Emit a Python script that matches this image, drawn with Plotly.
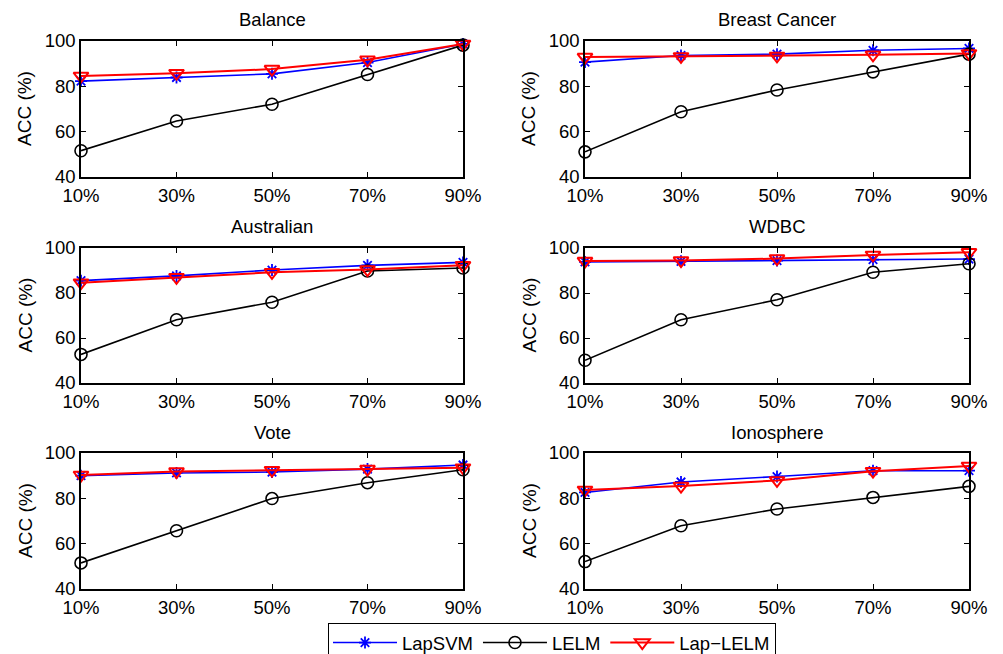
import plotly.graph_objects as go

# ---------------- data ----------------
x_vals = [10, 30, 50, 70, 90]
x_labels = ["10%", "30%", "50%", "70%", "90%"]
y_ticks = [40, 60, 80, 100]

titles = ["Balance", "Breast Cancer", "Australian", "WDBC", "Vote", "Ionosphere"]

lapsvm_balance = [82.3, 83.9, 85.5, 90.5, 98.7]
lelm_balance = [51.6, 64.7, 72.1, 85.2, 98.2]
laplelm_balance = [84.6, 85.8, 87.6, 91.7, 98.7]

lapsvm_breast = [90.7, 93.6, 94.2, 95.9, 96.7]
lelm_breast = [51.1, 68.8, 78.4, 86.4, 94.2]
laplelm_breast = [92.9, 93.2, 93.4, 93.9, 94.5]

lapsvm_australian = [85.5, 87.6, 90.2, 92.3, 93.6]
lelm_australian = [52.7, 68.1, 75.9, 89.8, 91.1]
laplelm_australian = [84.6, 87.0, 89.2, 90.4, 92.3]

lapsvm_wdbc = [93.8, 94.1, 94.4, 94.8, 95.1]
lelm_wdbc = [50.1, 68.1, 77.0, 89.2, 93.0]
laplelm_wdbc = [94.2, 94.4, 95.3, 96.9, 98.1]

lapsvm_vote = [90.0, 91.2, 91.6, 92.9, 94.7]
lelm_vote = [51.5, 65.7, 79.9, 86.9, 92.6]
laplelm_vote = [90.3, 91.8, 92.4, 92.9, 93.5]

lapsvm_iono = [82.6, 87.2, 89.6, 92.2, 92.2]
lelm_iono = [52.1, 67.9, 75.3, 80.4, 85.3]
laplelm_iono = [83.7, 85.4, 87.9, 92.0, 94.3]

series_sets = [
    (lapsvm_balance, lelm_balance, laplelm_balance),
    (lapsvm_breast, lelm_breast, laplelm_breast),
    (lapsvm_australian, lelm_australian, laplelm_australian),
    (lapsvm_wdbc, lelm_wdbc, laplelm_wdbc),
    (lapsvm_vote, lelm_vote, laplelm_vote),
    (lapsvm_iono, lelm_iono, laplelm_iono),
]

# ---------------- layout geometry ----------------
W, H = 1003, 654
FONT = "Liberation Sans, Arial, Helvetica, sans-serif"
col_px = [(81, 463), (585, 969)]
row_px = [(41, 177), (248, 383), (453, 589)]

fig = go.Figure()
layout_axes = {}
annotations = []

for i, (svm, lelm, lap) in enumerate(series_sets):
    r, c = divmod(i, 2)
    idx = "" if i == 0 else str(i + 1)
    xa, ya = "x" + idx, "y" + idx
    show = i == 0
    fig.add_trace(go.Scatter(
        x=x_vals, y=svm, xaxis=xa, yaxis=ya, name="LapSVM", legendgroup="svm",
        showlegend=show, mode="lines+markers", cliponaxis=False,
        line=dict(color="#0000ff", width=1.6),
        marker=dict(symbol="asterisk-open", size=10, color="#0000ff",
                    line=dict(color="#0000ff", width=1.8))))
    fig.add_trace(go.Scatter(
        x=x_vals, y=lelm, xaxis=xa, yaxis=ya, name="LELM", legendgroup="lelm",
        showlegend=show, mode="lines+markers", cliponaxis=False,
        line=dict(color="#000000", width=1.6),
        marker=dict(symbol="circle-open", size=12, color="#000000",
                    line=dict(color="#000000", width=1.6))))
    fig.add_trace(go.Scatter(
        x=x_vals, y=lap, xaxis=xa, yaxis=ya, name="Lap\u2212LELM", legendgroup="lap",
        showlegend=show, mode="lines+markers", cliponaxis=False,
        line=dict(color="#ff0000", width=2),
        marker=dict(symbol="triangle-down-open", size=13, color="#ff0000",
                    line=dict(color="#ff0000", width=2))))

    x0, x1 = col_px[c]
    y0, y1 = row_px[r]
    common = dict(showline=True, linecolor="black", linewidth=1.5, mirror="ticks",
                  ticks="inside", ticklen=5, tickwidth=1.2, tickcolor="black",
                  showgrid=False, zeroline=False, automargin=False,
                  tickfont=dict(family=FONT, size=18.5, color="black"))
    layout_axes["xaxis" + idx] = dict(
        common, domain=[x0 / W, x1 / W], anchor=ya, range=[10, 90],
        tickmode="array", tickvals=x_vals, ticktext=x_labels, ticklabelstandoff=1)
    layout_axes["yaxis" + idx] = dict(
        common, domain=[1 - y1 / H, 1 - y0 / H], anchor=xa, range=[40, 100],
        tickmode="array", tickvals=y_ticks, ticktext=[str(v) for v in y_ticks])

    annotations.append(dict(
        text=titles[i], x=(x0 + x1) / 2 / W, y=1 - (y0 - 21) / H,
        xref="paper", yref="paper", showarrow=False, xanchor="center", yanchor="middle",
        font=dict(family=FONT, size=18.5, color="black")))
    annotations.append(dict(
        text="ACC (%)", x=(x0 - 56) / W, y=1 - (y0 + y1) / 2 / H,
        xref="paper", yref="paper", showarrow=False, textangle=-90,
        xanchor="center", yanchor="middle",
        font=dict(family=FONT, size=19, color="black")))

fig.update_layout(
    template="none",
    width=W, height=H,
    margin=dict(l=0, r=0, t=0, b=0, autoexpand=False),
    paper_bgcolor="white", plot_bgcolor="white",
    annotations=annotations,
    showlegend=True,
    legend=dict(orientation="h", x=328 / W, xanchor="left",
                y=1 - 623 / H, yanchor="top",
                bordercolor="black", borderwidth=1, bgcolor="white",
                font=dict(family=FONT, size=18.5, color="black"),
                itemwidth=64, tracegroupgap=0),
    **layout_axes,
)

fig.write_html(
    "out.html",
    config={"displayModeBar": False},
    post_script="document.body.style.margin='0';document.body.style.padding='0';"
                "document.body.style.overflow='hidden';",
)
